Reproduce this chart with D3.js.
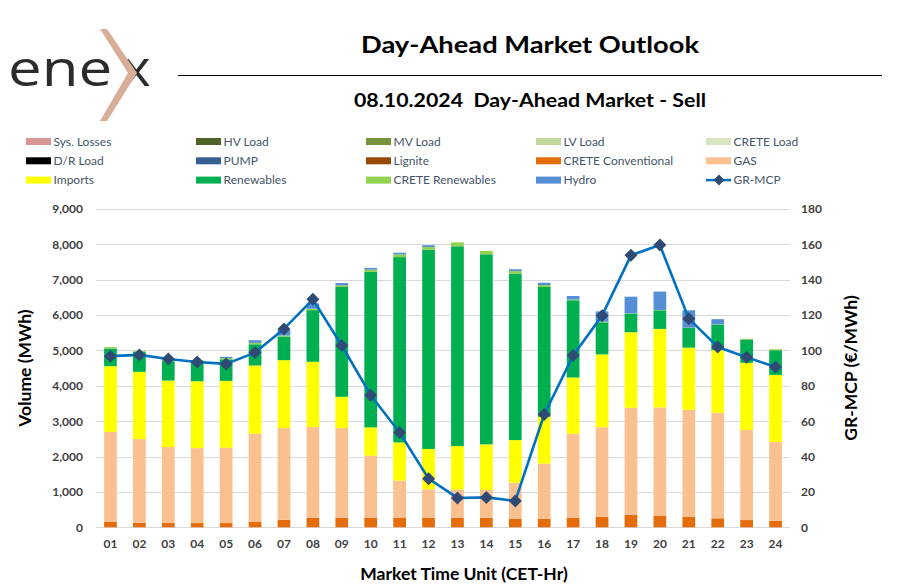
<!DOCTYPE html>
<html><head><meta charset="utf-8">
<script src="https://cdn.jsdelivr.net/npm/d3@7"></script>
<style>
html,body{margin:0;padding:0;background:#fff;}
svg{display:block;}
</style></head>
<body>
<svg id="c" width="897" height="588"></svg>
<script>
const hours = ["01","02","03","04","05","06","07","08","09","10","11","12","13","14","15","16","17","18","19","20","21","22","23","24"];
const sysLosses = Array(24).fill(0);
const hvLoad = Array(24).fill(0);
const mvLoad = Array(24).fill(0);
const lvLoad = Array(24).fill(0);
const creteLoad = Array(24).fill(0);
const drLoad = Array(24).fill(0);
const pump = Array(24).fill(0);
const lignite = Array(24).fill(0);
const creteConv = [150,130,120,120,120,160,215,275,275,275,275,275,275,265,245,245,275,300,350,330,300,255,205,180];
const gas = [2550,2365,2150,2120,2130,2485,2590,2560,2530,1750,1045,800,790,790,1015,1555,2370,2530,3030,3060,3020,2985,2545,2230];
const imports = [1855,1900,1880,1890,1890,1930,1920,1845,885,800,1080,1140,1230,1290,1205,1325,1590,2060,2135,2220,1760,1770,1900,1900];
const renewables = [500,565,545,575,610,600,670,1460,3105,4395,5240,5635,5650,5375,4705,3670,2185,905,525,525,555,715,660,695];
const creteRen = [40,30,35,25,35,40,30,40,45,65,75,75,110,95,75,55,20,20,10,10,10,10,20,30];
const hydro = [0,0,0,0,35,75,155,150,65,50,50,50,0,0,50,65,100,290,470,520,490,150,0,0];
const mcp = [96.8,97.5,95.2,93.5,92.4,98.8,112.2,128.9,102.8,74.7,53.6,27.5,16.6,16.9,14.9,63.8,97.1,119.7,153.8,159.6,118.0,102.0,96.2,90.7];
const leftTicks = [0,1000,2000,3000,4000,5000,6000,7000,8000,9000];
const rightTicks = [0,20,40,60,80,100,120,140,160,180];

const series = [
  {name:"Sys. Losses", color:"#DA9694", values:sysLosses},
  {name:"HV Load", color:"#4F6228", values:hvLoad},
  {name:"MV Load", color:"#77933C", values:mvLoad},
  {name:"LV Load", color:"#C3D69B", values:lvLoad},
  {name:"CRETE Load", color:"#D7E4BD", values:creteLoad},
  {name:"D/R Load", color:"#000000", values:drLoad},
  {name:"PUMP", color:"#376092", values:pump},
  {name:"Lignite", color:"#984807", values:lignite},
  {name:"CRETE Conventional", color:"#E46C0A", values:creteConv},
  {name:"GAS", color:"#FAC090", values:gas},
  {name:"Imports", color:"#FFFF00", values:imports},
  {name:"Renewables", color:"#00B050", values:renewables},
  {name:"CRETE Renewables", color:"#92D050", values:creteRen},
  {name:"Hydro", color:"#558ED5", values:hydro}
];

const svg = d3.select("#c");
const FONT = "Lato, 'Open Sans', sans-serif";
const diamond = s => `M0,${-s}L${s},0L0,${s}L${-s},0Z`;

// Logo
const logo = svg.append("g");
logo.append("text").attr("transform","translate(8,86) scale(1.2,1)").attr("font-family","'Open Sans', Lato, sans-serif")
  .attr("font-size",50).attr("font-weight",400).attr("fill","#2b2b2b").text("ene");
logo.append("text").attr("transform","translate(122,86) scale(1.1,1)").attr("font-family","'Open Sans', Lato, sans-serif")
  .attr("font-size",50).attr("font-weight",400).attr("fill","#2b2b2b").text("x");
logo.append("path").attr("d","M100,29 L107,29 L137,73 L107,121 L100,121 L128,73 Z").attr("fill","#D9AE98");
svg.append("line").attr("x1",178).attr("x2",882).attr("y1",75.5).attr("y2",75.5).attr("stroke","#000").attr("stroke-width",1.2);

svg.append("text").attr("x",530).attr("y",53).attr("text-anchor","middle").attr("font-family",FONT)
  .attr("font-weight",700).attr("font-size",23).attr("fill","#000")
  .attr("textLength",338).attr("lengthAdjust","spacingAndGlyphs").text("Day-Ahead Market Outlook");
svg.append("text").attr("x",530).attr("y",107).attr("text-anchor","middle").attr("font-family",FONT)
  .attr("font-weight",700).attr("font-size",18).attr("fill","#000").style("white-space","pre")
  .attr("textLength",352).attr("lengthAdjust","spacingAndGlyphs").text("08.10.2024  Day-Ahead Market - Sell");

// Legend
const legItems = series.map(s=>({name:s.name,color:s.color,type:"bar"})).concat([{name:"GR-MCP",type:"line"}]);
const leg = svg.append("g");
legItems.forEach((d,i)=>{
  const col = i%5, row = Math.floor(i/5);
  const x = 26 + col*170, y = 141.5 + row*19.3;
  const g = leg.append("g").attr("transform",`translate(${x},${y})`);
  if(d.type==="bar"){
    g.append("rect").attr("x",0).attr("y",-3.5).attr("width",25).attr("height",7).attr("fill",d.color);
  } else {
    g.append("line").attr("x1",0).attr("x2",25).attr("y1",0).attr("y2",0).attr("stroke","#0070C0").attr("stroke-width",2.5);
    g.append("path").attr("d",diamond(5.5)).attr("transform","translate(13,0)").attr("fill","#2E4A75");
  }
  g.append("text").attr("x",27.5).attr("y",4.2).attr("font-family",FONT).attr("font-size",12)
    .attr("fill","#44546A").text(d.name);
});

// Scales
const x = d3.scaleBand().domain(hours).range([96,790]).paddingInner(0.56).paddingOuter(0.28);
const y = d3.scaleLinear().domain([0,9000]).range([527.3,209]);
const y2 = d3.scaleLinear().domain([0,180]).range([527.3,209]);

// gridlines
svg.append("g").selectAll("line").data(leftTicks).join("line")
  .attr("x1",96).attr("x2",790).attr("y1",d=>Math.round(y(d))+0.5).attr("y2",d=>Math.round(y(d))+0.5)
  .attr("stroke","#D9D9D9").attr("stroke-width",1.2);

// Stacked bars
const keys = series.map(s=>s.name);
const rows = hours.map((h,i)=>{const o={hour:h}; series.forEach(s=>o[s.name]=s.values[i]); return o;});
const stack = d3.stack().keys(keys)(rows);
const bars = svg.append("g");
stack.forEach((layer,li)=>{
  bars.append("g").attr("fill",series[li].color).selectAll("rect")
    .data(layer.filter(d=>d[1]-d[0]>0)).join("rect")
    .attr("x",d=>x(d.data.hour)).attr("width",x.bandwidth())
    .attr("y",d=>y(d[1])).attr("height",d=>y(d[0])-y(d[1]));
});

// Axes
const axL = svg.append("g").attr("transform","translate(88,0)")
  .call(d3.axisLeft(y).tickValues(leftTicks).tickFormat(d3.format(",")).tickSize(0).tickPadding(0));
const axR = svg.append("g").attr("transform","translate(801,0)")
  .call(d3.axisRight(y2).tickValues(rightTicks).tickSize(0).tickPadding(0));
const axB = svg.append("g").attr("transform","translate(0,527)")
  .call(d3.axisBottom(x).tickSize(0).tickPadding(12));
[axL,axR,axB].forEach(a=>{
  a.select(".domain").remove();
  a.selectAll("text").attr("font-family",FONT).attr("font-weight",700).attr("font-size",12).attr("fill","#404040");
});
axL.selectAll("text").attr("x",-5);

// Line
const line = d3.line().x((d,i)=>x(hours[i])+x.bandwidth()/2).y(d=>y2(d));
svg.append("path").datum(mcp).attr("d",line).attr("fill","none").attr("stroke","#0070C0").attr("stroke-width",2.6).attr("stroke-linejoin","round");
svg.append("g").selectAll("path").data(mcp).join("path")
  .attr("d",diamond(6.5))
  .attr("transform",(d,i)=>`translate(${x(hours[i])+x.bandwidth()/2},${y2(d)})`)
  .attr("fill","#2E4A75");

// Axis titles
svg.append("text").attr("transform","translate(31,368) rotate(-90)").attr("text-anchor","middle")
  .attr("font-family",FONT).attr("font-weight",700).attr("font-size",17.5).attr("fill","#000").text("Volume (MWh)");
svg.append("text").attr("transform","translate(857,368) rotate(-90)").attr("text-anchor","middle")
  .attr("font-family",FONT).attr("font-weight",700).attr("font-size",17.5).attr("fill","#000").text("GR-MCP (€/MWh)");
svg.append("text").attr("x",464).attr("y",580).attr("text-anchor","middle")
  .attr("font-family",FONT).attr("font-weight",700).attr("font-size",17.5).attr("fill","#000").text("Market Time Unit (CET-Hr)");
</script>
</body></html>
